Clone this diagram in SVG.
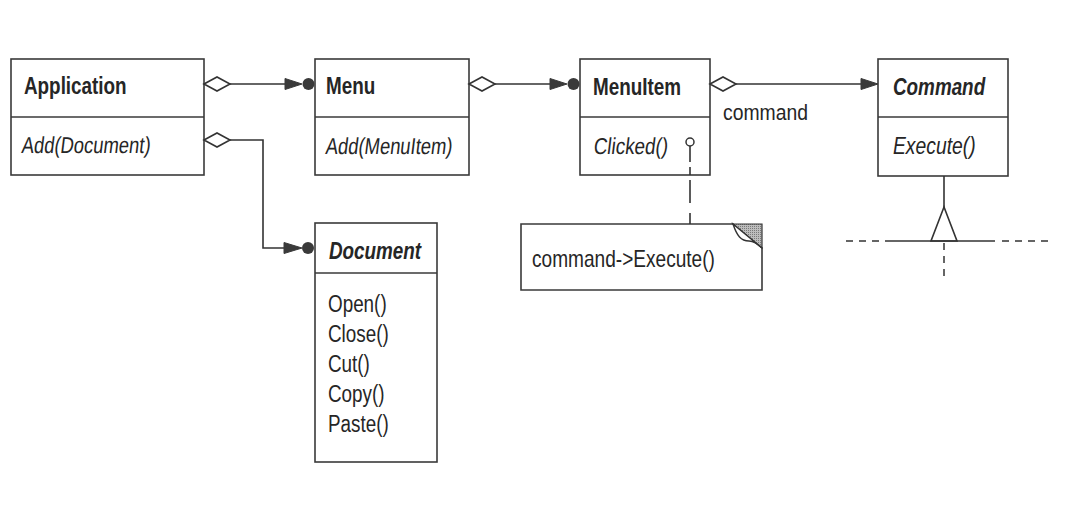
<svg xmlns="http://www.w3.org/2000/svg" width="1080" height="507" viewBox="0 0 1080 507">
<style>
  .box { fill: #ffffff; stroke: #3a3a3a; stroke-width: 1.6; }
  .div { stroke: #3a3a3a; stroke-width: 1.6; }
  .ln { fill: none; stroke: #333333; stroke-width: 1.6; }
  .dash { fill: none; stroke: #333333; stroke-width: 1.5; stroke-dasharray: 7 6; }
  .dia { fill: #ffffff; stroke: #333333; stroke-width: 1.6; stroke-linejoin: miter; }
  .head { fill: #3a3a3a; stroke: #3a3a3a; stroke-width: 1; }
  .dot { fill: #3a3a3a; stroke: none; }
  text { font-family: "Liberation Sans", Arial, sans-serif; font-size: 23px; fill: #262626; }
  .title { font-weight: bold; }
  .abs { font-weight: bold; font-style: italic; }
  .it { font-style: italic; }
</style>
<defs>
  <pattern id="shade" width="2" height="2" patternUnits="userSpaceOnUse">
    <rect width="2" height="2" fill="#bdbdbd"/>
    <rect width="1" height="1" fill="#7a7a7a"/>
  </pattern>
</defs>
<rect width="1080" height="507" fill="#ffffff"/>

<g id="application">
  <rect class="box" x="11" y="59" width="193" height="116"/>
  <line class="div" x1="11" y1="117" x2="204" y2="117"/>
  <text class="title" transform="translate(24 94) scale(0.82 1)">Application</text>
  <text transform="translate(21 153) skewX(-7) scale(0.8 1)">Add(Document)</text>
</g>

<g id="menu">
  <rect class="box" x="315" y="59" width="154" height="116"/>
  <line class="div" x1="315" y1="117" x2="469" y2="117"/>
  <text class="title" transform="translate(326 94) scale(0.82 1)">Menu</text>
  <text transform="translate(325 154) skewX(-7) scale(0.8 1)">Add(MenuItem)</text>
</g>

<g id="menuitem">
  <rect class="box" x="580" y="59" width="130" height="116"/>
  <line class="div" x1="580" y1="117" x2="710" y2="117"/>
  <text class="title" transform="translate(593 95) scale(0.82 1)">MenuItem</text>
  <text transform="translate(593 154) skewX(-7) scale(0.82 1)">Clicked()</text>
</g>

<g id="command">
  <rect class="box" x="878" y="59" width="130" height="117"/>
  <line class="div" x1="878" y1="117" x2="1008" y2="117"/>
  <text class="abs" transform="translate(893 95) scale(0.82 1)">Command</text>
  <text class="it" transform="translate(893 154) scale(0.84 1)">Execute()</text>
</g>

<g id="document">
  <rect class="box" x="315" y="223" width="122" height="239"/>
  <line class="div" x1="315" y1="273" x2="437" y2="273"/>
  <text class="abs" transform="translate(329 259) scale(0.82 1)">Document</text>
  <text transform="translate(328 312) scale(0.82 1)">Open()</text>
  <text transform="translate(328 342) scale(0.82 1)">Close()</text>
  <text transform="translate(328 372) scale(0.82 1)">Cut()</text>
  <text transform="translate(328 402) scale(0.82 1)">Copy()</text>
  <text transform="translate(328 432) scale(0.82 1)">Paste()</text>
</g>

<g id="note">
  <path class="box" d="M521,224 H733 L762,248 V290 H521 Z"/>
  <polygon points="733,224 762,224 762,248" fill="url(#shade)" stroke="#333333" stroke-width="1.2"/>
  <path d="M733,224 C737,236 741,241 749,241 C754,241 758,244 762,248 Z" fill="#ffffff" stroke="#333333" stroke-width="1.4"/>
  <text transform="translate(532 267) scale(0.83 1)">command-&gt;Execute()</text>
</g>

<g id="connectors">
  <!-- Application -> Menu -->
  <line class="ln" x1="230" y1="84" x2="290" y2="84"/>
  <polygon class="dia" points="204,84 217,77 230,84 217,91"/>
  <polygon class="head" points="285,78.5 302,84 285,89.5"/>
  <circle class="dot" cx="308.5" cy="84" r="6"/>

  <!-- Application -> Document -->
  <path class="ln" d="M230,140 H263 V248 H288"/>
  <polygon class="dia" points="204,140 217,133 230,140 217,147"/>
  <polygon class="head" points="284,242.5 302,248 284,253.5"/>
  <circle class="dot" cx="308" cy="248" r="6"/>

  <!-- Menu -> MenuItem -->
  <line class="ln" x1="495" y1="84" x2="555" y2="84"/>
  <polygon class="dia" points="469,84 482,77 495,84 482,91"/>
  <polygon class="head" points="550,78.5 567,84 550,89.5"/>
  <circle class="dot" cx="573.5" cy="84" r="6"/>

  <!-- MenuItem -> Command -->
  <line class="ln" x1="736" y1="84" x2="866" y2="84"/>
  <polygon class="dia" points="710,84 723,77 736,84 723,91"/>
  <polygon class="head" points="861,78.5 878,84 861,89.5"/>
  <text transform="translate(723 120) scale(0.88 1)" style="font-size:22px">command</text>

  <!-- Clicked() note link -->
  <circle cx="690" cy="142" r="4" fill="#ffffff" stroke="#333333" stroke-width="1.5"/>
  <path class="ln" d="M690,146 V162 M690,167 V175 M690,180 V203 M690,213 V224"/>

  <!-- Command inheritance -->
  <line class="ln" x1="944" y1="176" x2="944" y2="207"/>
  <polygon points="944,207 931,241 957,241" fill="#ffffff" stroke="#333333" stroke-width="1.6"/>
  <line class="ln" x1="885" y1="241" x2="995" y2="241"/>
  <line class="dash" x1="846" y1="241" x2="885" y2="241"/>
  <line class="dash" x1="1002" y1="241" x2="1049" y2="241"/>
  <line class="dash" x1="944" y1="243" x2="944" y2="281"/>
</g>
</svg>
